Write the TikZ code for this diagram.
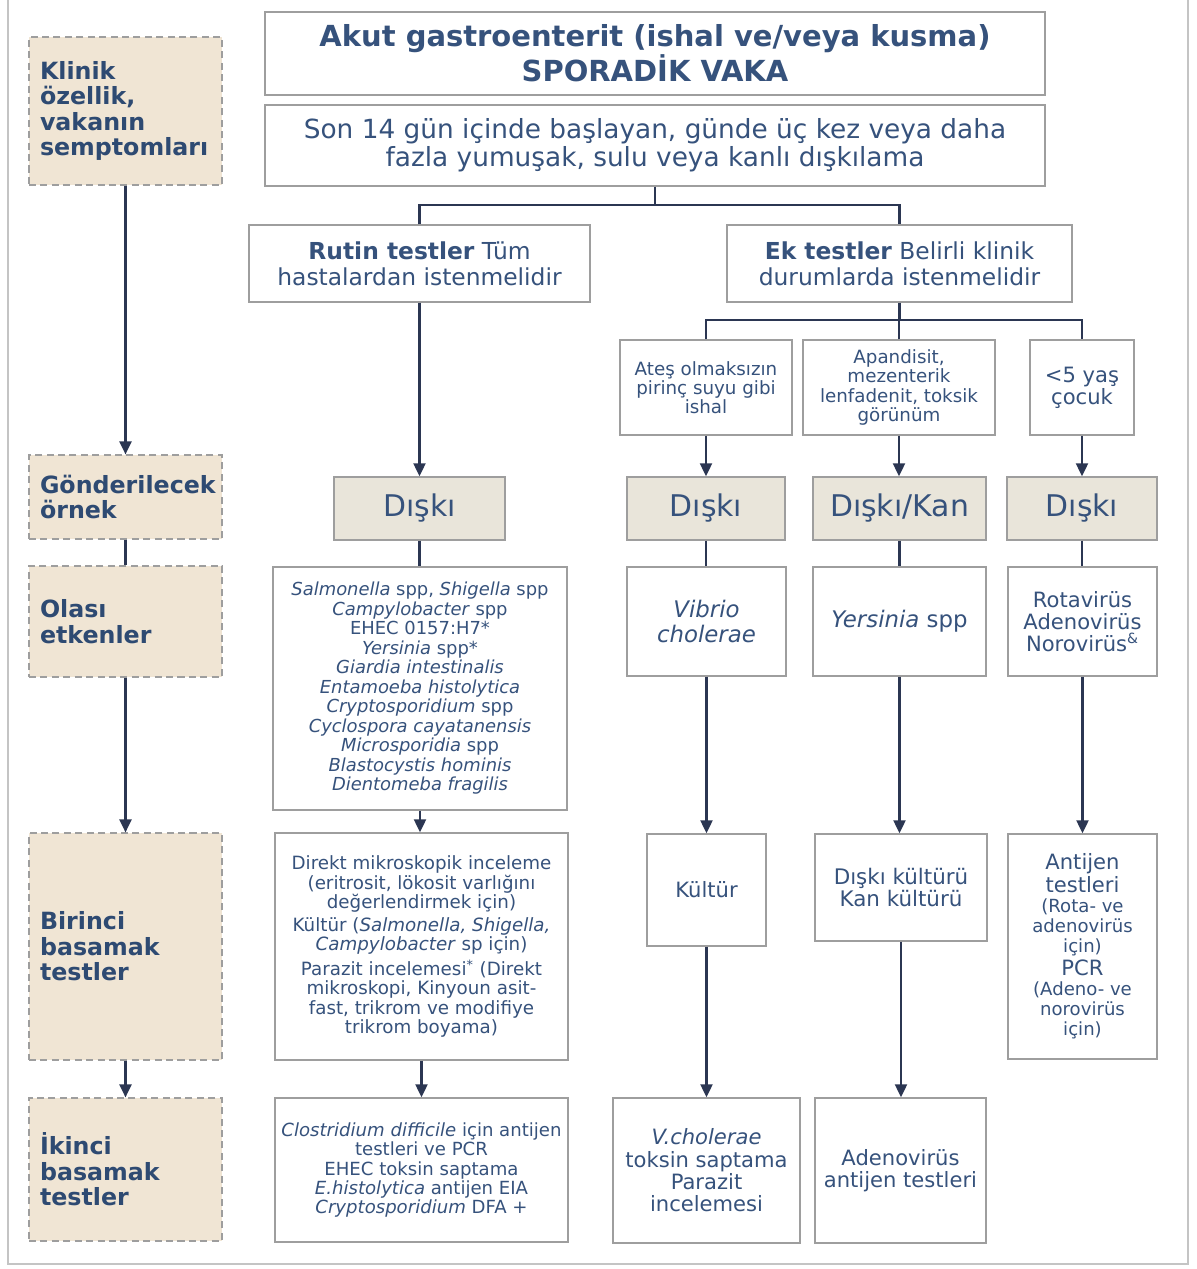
\documentclass[tikz,border=0pt]{standalone}
\usepackage{fontspec}
\setmainfont{DejaVu Sans}
\usetikzlibrary{arrows.meta}
\definecolor{textBlue}{HTML}{36527C}
\definecolor{labelBlue}{HTML}{2E4A72}
\definecolor{lineNavy}{HTML}{2B3652}
\definecolor{boxGray}{HTML}{9E9E9E}
\definecolor{frameGray}{HTML}{C4C4C4}
\definecolor{labelFill}{HTML}{F0E5D4}
\definecolor{sampleFill}{HTML}{E9E5DA}
\newcommand{\fontAt}[2]{\fontsize{#1}{#2}\selectfont}

\begin{document}
\begin{tikzpicture}[x=0.02cm, y=-0.02cm,
   box/.style={draw=boxGray, line width=0.8pt, fill=white, text=textBlue, align=center, inner sep=2pt},
   sidebox/.style={draw=boxGray, dash pattern=on 4pt off 2.5pt, line width=0.7pt, fill=labelFill,
      text=labelBlue, text width=3.42cm, inner xsep=0.22cm, minimum width=3.86cm, align=left,
      font=\bfseries\fontAt{13.5}{14.5}},
   samplebox/.style={box, fill=sampleFill, minimum height=1.26cm, font=\fontAt{17}{18}},
   link/.style={draw=lineNavy, line width=1.2pt},
   arrowlink/.style={link, -{Triangle[length=2.6mm,width=2.4mm]}}]
   \useasboundingbox (0,0) rectangle (1197,1269);
   \draw[frameGray, line width=1.2pt] (8,0) -- (8,1264) -- (1188,1264) -- (1188,0);

   % left column
   \node[sidebox, minimum height=2.96cm] (klinik) at (125.5,111) {Klinik\\özellik,\\vakanın\\semptomları};
   \node[sidebox, minimum height=1.68cm] (gonder) at (125.5,497) {Gönderilecek\\örnek};
   \node[sidebox, minimum height=2.22cm] (olasi) at (125.5,621.5) {Olası\\etkenler};
   \node[sidebox, minimum height=4.54cm] (birinci) at (125.5,946.5) {Birinci\\basamak\\testler};
   \node[sidebox, minimum height=2.86cm] (ikinci) at (125.5,1169.5) {İkinci\\basamak\\testler};

   % top
   \node[box, minimum width=15.6cm, minimum height=1.66cm, font=\bfseries\fontAt{16.5}{17}] (title) at (655,53.5)
      {Akut gastroenterit (ishal ve/veya kusma)\\SPORADİK VAKA};
   \node[box, minimum width=15.6cm, minimum height=1.62cm, font=\fontAt{15}{16}] (son) at (655,145.5)
      {Son 14 gün içinde başlayan, günde üç kez veya daha\\fazla yumuşak, sulu veya kanlı dışkılama};
   \node[box, minimum width=6.82cm, minimum height=1.54cm, font=\fontAt{13.3}{15}] (rutin) at (419.5,263.5)
      {\textbf{Rutin testler} Tüm\\hastalardan istenmelidir};
   \node[box, minimum width=6.9cm, minimum height=1.54cm, font=\fontAt{13.3}{15}] (ek) at (899.5,263.5)
      {\textbf{Ek testler} Belirli klinik\\durumlarda istenmelidir};
   \coordinate (split1) at (653,205);
   \coordinate (split2) at (899.5,320);

   % clinical situations
   \node[box, minimum width=3.44cm, minimum height=1.9cm, font=\fontAt{10.4}{10.9}] (ates) at (706,387.5)
      {Ateş olmaksızın\\pirinç suyu gibi\\ishal};
   \node[box, minimum width=3.84cm, minimum height=1.9cm, font=\fontAt{10.4}{11}] (apand) at (899,387.5)
      {Apandisit,\\mezenterik\\lenfadenit, toksik\\görünüm};
   \node[box, minimum width=2.08cm, minimum height=1.9cm, font=\fontAt{12}{12.5}] (yas) at (1082,387.5)
      {<5 yaş\\çocuk};

   % samples
   \node[samplebox, minimum width=3.42cm] (diski1) at (419.5,508.5) {Dışkı};
   \node[samplebox, minimum width=3.16cm] (diski2) at (706,508.5) {Dışkı};
   \node[samplebox, minimum width=3.46cm] (diskikan) at (899.5,508.5) {Dışkı/Kan};
   \node[samplebox, minimum width=3.0cm] (diski3) at (1082,508.5) {Dışkı};

   % agents
   \node[box, minimum width=5.88cm, minimum height=4.86cm, font=\fontAt{10.2}{11.1}] (salm) at (420,688.5)
      {\textit{Salmonella} spp, \textit{Shigella} spp\\\textit{Campylobacter} spp\\EHEC 0157:H7*\\\textit{Yersinia} spp*\\
       \textit{Giardia intestinalis}\\\textit{Entamoeba histolytica}\\\textit{Cryptosporidium} spp\\
       \textit{Cyclospora cayatanensis}\\\textit{Microsporidia} spp\\\textit{Blastocystis hominis}\\\textit{Dientomeba fragilis}};
   \node[box, minimum width=3.18cm, minimum height=2.18cm, font=\itshape\fontAt{13}{14}] (vibrio) at (706.5,621.5)
      {Vibrio\\cholerae};
   \node[box, minimum width=3.46cm, minimum height=2.18cm, font=\fontAt{13}{14}] (yersinia) at (899.5,621.5)
      {\textit{Yersinia} spp};
   \node[box, minimum width=2.98cm, minimum height=2.18cm, font=\fontAt{12}{12.5}] (rota) at (1082.5,621.5)
      {Rotavirüs\\Adenovirüs\\Norovirüs\textsuperscript{\&}};

   % first step tests
   \node[box, minimum width=5.86cm, minimum height=4.54cm, font=\fontAt{10.4}{11}] (direkt) at (421.5,946.5)
      {Direkt mikroskopik inceleme\\(eritrosit, lökosit varlığını\\değerlendirmek için)\\[2pt]
       Kültür (\textit{Salmonella, Shigella,}\\\textit{Campylobacter} sp için)\\[2pt]
       Parazit incelemesi\textsuperscript{*} (Direkt\\mikroskopi, Kinyoun asit-\\fast, trikrom ve modifiye\\trikrom boyama)};
   \node[box, minimum width=2.38cm, minimum height=2.24cm, font=\fontAt{12}{13}] (kultur) at (706.5,890) {Kültür};
   \node[box, minimum width=3.44cm, minimum height=2.14cm, font=\fontAt{12.2}{12.5}] (diskikultur) at (901,887.5)
      {Dışkı kültürü\\Kan kültürü};
   \node[box, minimum width=2.98cm, minimum height=4.5cm, font=\fontAt{10.3}{11.4}] (antijen) at (1082.5,946.5)
      {\fontAt{12}{13}Antijen\\\fontAt{12}{13}testleri\\\fontAt{10.3}{11.4}(Rota- ve\\adenovirüs\\için)\\[2pt]
       \fontAt{12}{13}PCR\\\fontAt{10.3}{11.4}(Adeno- ve\\norovirüs\\için)};

   % second step tests
   \node[box, minimum width=5.86cm, minimum height=2.88cm, font=\fontAt{10.3}{11}] (clost) at (421.5,1170)
      {\textit{Clostridium difficile} için antijen\\testleri ve PCR\\EHEC toksin saptama\\
       \textit{E.histolytica} antijen EIA\\\textit{Cryptosporidium} DFA +};
   \node[box, minimum width=3.74cm, minimum height=2.9cm, font=\fontAt{12}{12.7}] (vchol) at (706.5,1170.5)
      {\textit{V.cholerae}\\toksin saptama\\Parazit\\incelemesi};
   \node[box, minimum width=3.42cm, minimum height=2.9cm, font=\fontAt{12}{12.7}] (adeno) at (900.5,1170.5)
      {Adenovirüs\\antijen testleri};

   % connectors
   \draw[link] (son.south) -- (son.south |- split1);
   \draw[link] (rutin.north) |- (split1) -| (ek.north);
   \draw[link] (ek.south) -- (split2);
   \draw[link] (ates.north) |- (split2) -| (yas.north);
   \draw[link] (apand.north) -- (apand.north |- split2);
   \foreach \a/\b in {gonder/olasi, diski1/salm, diski2/vibrio, diskikan/yersinia, diski3/rota}
   {
      \draw[link] (\a.south) -- (\a.south |- \b.north);
   }
   \foreach \a/\b in {klinik/gonder, olasi/birinci, birinci/ikinci, rutin/diski1, ates/diski2,
      apand/diskikan, yas/diski3, salm/direkt, vibrio/kultur, yersinia/diskikultur, rota/antijen,
      direkt/clost, kultur/vchol, diskikultur/adeno}
   {
      \draw[arrowlink] (\a.south) -- (\a.south |- \b.north);
   }
\end{tikzpicture}
\end{document}
